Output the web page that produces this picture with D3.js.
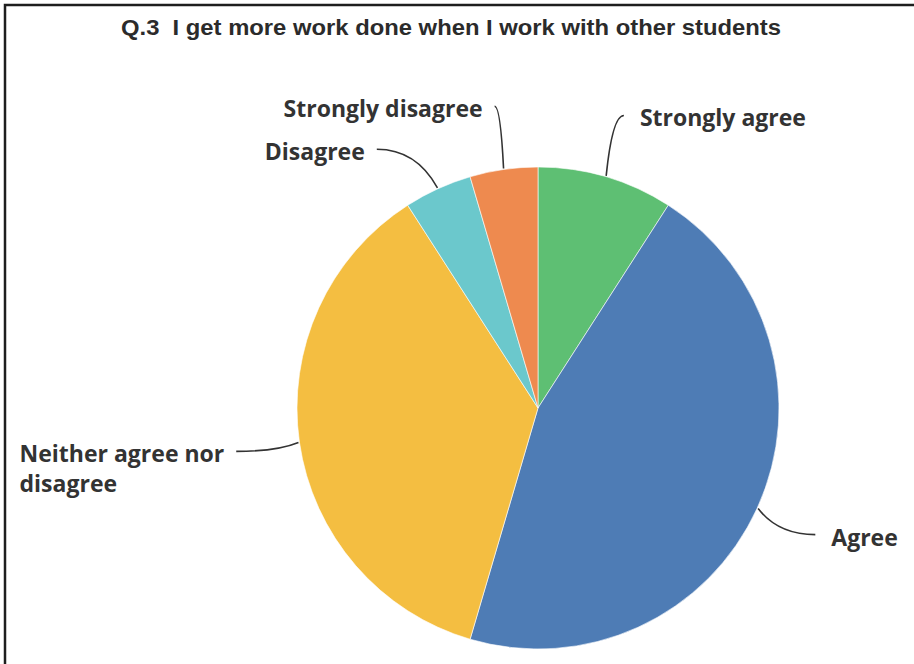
<!DOCTYPE html>
<html>
<head>
<meta charset="utf-8">
<script src="https://cdn.jsdelivr.net/npm/d3@7"></script>
<style>
  body { margin: 0; background: #fff; }
</style>
</head>
<body>
<div id="PIE_CHART"></div>
<script>
var WIDTH = 914, HEIGHT = 664;

// survey answers, clockwise from 12 o'clock
var categories = ["Strongly agree", "Agree", "Neither agree nor disagree", "Disagree", "Strongly disagree"];
var responses = [2, 10, 8, 1, 1];
var sliceColors = ["#5ebf73", "#4e7cb5", "#f4be41", "#6bc8cc", "#ee8a4f"];
// how each label is broken into lines
var labelLines = [["Strongly agree"], ["Agree"], ["Neither agree nor", "disagree"], ["Disagree"], ["Strongly disagree"]];

var data = categories.map(function(c, i) { return { name: c, value: responses[i], lines: labelLines[i] }; });

var svg = d3.select("#PIE_CHART")
    .append("svg")
    .attr("width", WIDTH)
    .attr("height", HEIGHT);

// frame of the screenshot (top and left edges only)
svg.append("path")
    .attr("d", "M5,664 V5 H914")
    .attr("fill", "none")
    .attr("stroke", "#1e1e1e")
    .attr("stroke-width", 2.5);

svg.append("text")
    .attr("x", 451)
    .attr("y", 35)
    .attr("text-anchor", "middle")
    .attr("textLength", 660)
    .attr("lengthAdjust", "spacingAndGlyphs")
    .style("white-space", "pre")
    .style("font-family", "'Liberation Sans', Arial, sans-serif")
    .style("font-weight", "bold")
    .style("font-size", "22px")
    .attr("fill", "#2b2b2b")
    .text("Q.3  I get more work done when I work with other students");

var cx = 538, cy = 408, radius = 241;
var g = svg.append("g").attr("transform", "translate(" + cx + "," + cy + ")");

var color = d3.scaleOrdinal().domain(categories).range(sliceColors);

var pie = d3.pie().sort(null).value(function(d) { return d.value; });
var data_ready = pie(data);

var arc = d3.arc().innerRadius(0).outerRadius(radius);

g.selectAll("allSlices")
    .data(data_ready)
    .enter()
    .append("path")
    .attr("d", arc)
    .attr("fill", function(d) { return color(d.data.name); })
    .attr("stroke", "#fff")
    .attr("stroke-width", 0.6);

// labels sit on a bigger circle; push apart on each side if they overlap
var labelR = radius * 1.265, minGap = 43;
data_ready.forEach(function(d) {
    var mid = (d.startAngle + d.endAngle) / 2;
    d.mid = mid;
    d.side = mid < Math.PI ? 1 : -1;
    d.ly = -labelR * Math.cos(mid);
});
[1, -1].forEach(function(side) {
    var grp = data_ready.filter(function(d) { return d.side === side; })
        .sort(function(a, b) { return a.ly - b.ly; });
    for (var i = 1; i < grp.length; i++) {
        if (grp[i].ly - grp[i - 1].ly < minGap) grp[i].ly = grp[i - 1].ly + minGap;
    }
});
data_ready.forEach(function(d) {
    d.lx = d.side * Math.sqrt(Math.max(0, labelR * labelR - d.ly * d.ly));
    d.sx = (radius + 1) * Math.sin(d.mid);
    d.sy = -(radius + 1) * Math.cos(d.mid);
});

g.selectAll("allLines")
    .data(data_ready)
    .enter()
    .append("path")
    .attr("fill", "none")
    .attr("stroke", "#333")
    .attr("stroke-width", 1.6)
    .attr("d", function(d) {
        var ctrlX = d.sx + (d.lx - d.sx) * 0.35;
        var p = d3.path();
        p.moveTo(d.sx, d.sy);
        p.quadraticCurveTo(ctrlX, d.ly, d.lx, d.ly);
        return p.toString();
    });

var labels = g.selectAll("allLabels")
    .data(data_ready)
    .enter()
    .append("text")
    .style("font-family", "'Open Sans', sans-serif")
    .style("font-weight", "bold")
    .style("font-size", "23px")
    .attr("fill", "#333");

labels.selectAll("tspan")
    .data(function(d) {
        return d.data.lines.map(function(t, i) { return { t: t, i: i, d: d }; });
    })
    .enter()
    .append("tspan")
    .attr("y", function(o) { return o.d.ly + 11 + o.i * 30; })
    .text(function(o) { return o.t; });

// text block is left aligned; on the left side it is pushed so its right edge meets the line
labels.each(function(d) {
    var blockW = d3.max(d3.select(this).selectAll("tspan").nodes(), function(n) { return n.getComputedTextLength(); });
    var x0 = d.side > 0 ? d.lx + 16 : d.lx - 12 - blockW;
    d3.select(this).selectAll("tspan").attr("x", x0);
});
</script>
</body>
</html>
